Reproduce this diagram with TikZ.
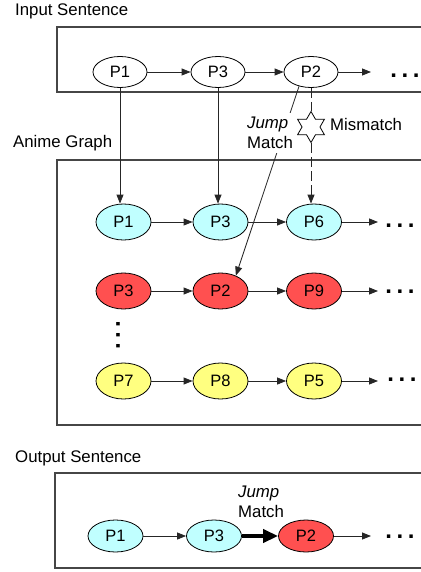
\documentclass[tikz,border=0pt]{standalone}
\usepackage{fontspec}
\setmainfont{Liberation Sans}
\usetikzlibrary{shapes.geometric,arrows.meta}
\definecolor{cyanfill}{RGB}{192,255,255}
\definecolor{redfill}{RGB}{255,80,80}
\definecolor{yelfill}{RGB}{255,255,128}
\definecolor{boxline}{RGB}{70,70,70}
\newcommand{\mydots}{.\kern4.6pt.\kern4.6pt.}
\begin{document}
\begin{tikzpicture}[x=1pt,y=-1pt,
  pnode/.style={ellipse,draw=black,line width=0.8pt,inner sep=0pt,minimum width=55pt,font=\fontsize{16.5}{18}\selectfont},
  inp/.style={pnode,fill=white,minimum width=54pt,minimum height=31pt},
  ani/.style={pnode,minimum height=36pt},
  outn/.style={pnode,minimum height=32pt},
  cy/.style={fill=cyanfill}, rd/.style={fill=redfill}, yl/.style={fill=yelfill},
  frame/.style={draw=boxline,line width=1.2pt},
  lbl/.style={font=\fontsize{16.8}{20}\selectfont,inner sep=0pt},
  arr/.style={-{Triangle[length=9pt,width=7pt]},line width=0.8pt,draw=black!85},
  thickarr/.style={-{Triangle[length=15pt,width=13pt]},line width=4pt,draw=black},
  dotsn/.style={font=\bfseries\fontsize{24}{24}\selectfont,inner sep=0pt},
  starn/.style={star,star points=6,star point ratio=1.73,minimum size=31pt,inner sep=0pt,draw=black,line width=0.8pt,fill=white}
]
\useasboundingbox (0,0) rectangle (420,572);
\fill[white] (0,0) rectangle (420,572);

% frames
\draw[frame] (57,27) rectangle (430,92);
\draw[frame] (57,160) rectangle (430,425);
\draw[frame] (55,473) rectangle (430,568);

% section labels
\node[lbl,anchor=base west] (lin) at (15,16) {Input Sentence};
\node[lbl,anchor=base west] (lan) at (13,148) {Anime Graph};
\node[lbl,anchor=base west] (lout) at (15,462) {Output Sentence};

% input sentence
\node[inp] (i1) at (120,72) {P1};
\node[inp] (i3) at (218,72) {P3};
\node[inp] (i2) at (311,72) {P2};
\coordinate (ie) at (371,72);
\node[dotsn] (id) at (405,76) {\mydots};
\draw[arr] (i1) -- (i3);
\draw[arr] (i3) -- (i2);
\draw[arr] (i2) -- (ie);

% anime graph rows
\node[ani,cy] (a1) at (123.5,222) {P1};
\node[ani,cy] (a3) at (220.5,222) {P3};
\node[ani,cy] (a6) at (314,222) {P6};
\coordinate (ae1) at (378,222);
\node[dotsn] (ad1) at (400,226) {\mydots};

\node[ani,rd] (r3) at (123.5,291) {P3};
\node[ani,rd] (r2) at (220.5,291) {P2};
\node[ani,rd] (r9) at (314,291) {P9};
\coordinate (ae2) at (378,291);
\node[dotsn] (ad2) at (400,292) {\mydots};

\node[dotsn,rotate=90] (vd) at (118,335) {\mydots};

\node[ani,yl] (y7) at (123.5,381) {P7};
\node[ani,yl] (y8) at (220.5,381) {P8};
\node[ani,yl] (y5) at (314,381) {P5};
\coordinate (ae3) at (378,381);
\node[dotsn] (ad3) at (402,380) {\mydots};

\draw[arr] (a1) -- (a3);
\draw[arr] (a3) -- (a6);
\draw[arr] (a6) -- (ae1);
\draw[arr] (r3) -- (r2);
\draw[arr] (r2) -- (r9);
\draw[arr] (r9) -- (ae2);
\draw[arr] (y7) -- (y8);
\draw[arr] (y8) -- (y5);
\draw[arr] (y5) -- (ae3);

% vertical connections
\draw[arr] (i1.south) -- (i1.south |- a1.north);
\draw[arr] (i3.south) -- (i3.south |- a3.north);

% mismatch path
\node[starn] (st) at (311,127) {};
\draw[line width=0.9pt,draw=black!85,dash pattern=on 10pt off 4pt] (i2.south) -- (st.north);
\draw[arr,line width=0.9pt,dash pattern=on 10pt off 4pt] (st.south) -- (st.south |- a6.north);
\node[lbl,anchor=base west] (mm) at (330,131) {Mismatch};

% jump match
\draw[arr] (i2.-130) -- (r2.45);
\node[lbl,align=left,anchor=north west,inner sep=4pt,fill=white] (jm) at (243,113) {\textit{Jump}\\Match};

% output sentence
\node[outn,cy] (o1) at (115.5,536) {P1};
\node[outn,cy] (o3) at (214,536) {P3};
\node[outn,rd] (o2) at (306,536) {P2};
\coordinate (oe) at (371,536);
\node[dotsn] (od) at (400,537) {\mydots};
\draw[arr] (o1) -- (o3);
\draw[thickarr] (o3) -- (o2);
\draw[arr] (o2) -- (oe);
\node[lbl,align=left,anchor=north west,inner sep=2pt] (jm2) at (236,484) {\textit{Jump}\\Match};

\end{tikzpicture}
\end{document}
